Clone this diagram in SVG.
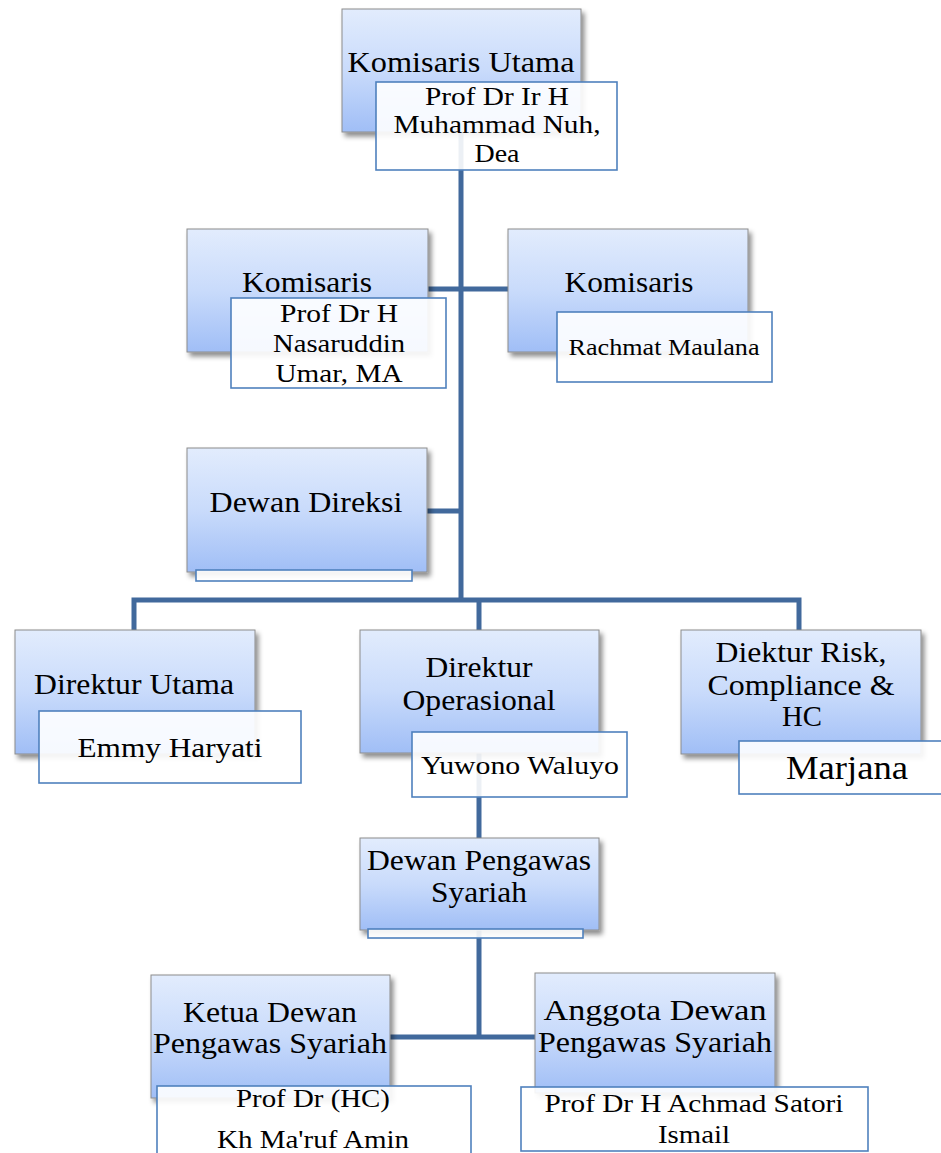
<svg xmlns="http://www.w3.org/2000/svg" width="941" height="1153" viewBox="0 0 941 1153">
<defs>
<linearGradient id="blueGrad" x1="0" y1="0" x2="0" y2="1">
<stop offset="0" stop-color="#E2ECFD"/>
<stop offset="0.5" stop-color="#C9DBFB"/>
<stop offset="1" stop-color="#A0BEF6"/>
</linearGradient>
<filter id="shadow" x="-10%" y="-10%" width="125%" height="130%">
<feDropShadow dx="3" dy="4" stdDeviation="2.5" flood-color="#000" flood-opacity="0.45"/>
</filter>
</defs>
<style>
.role{fill:url(#blueGrad);stroke:#8C8C8C;stroke-width:1;filter:url(#shadow)}
.name{fill:#FFFFFF;fill-opacity:0.9;stroke:#4F81BD;stroke-width:1.6}
.conn{fill:none;stroke:#41699C;stroke-width:5;stroke-linecap:butt;stroke-linejoin:miter}
text{font-family:"Liberation Serif","Times New Roman",serif;fill:#000;text-anchor:middle}
.h{font-size:29px}
.n{font-size:26px}
</style>
<rect width="941" height="1153" fill="#FFFFFF"/>
<g id="connectors">
<line class="conn" x1="461" y1="132" x2="461" y2="602"/>
<line class="conn" x1="428" y1="289" x2="508" y2="289"/>
<line class="conn" x1="427" y1="511" x2="461" y2="511"/>
<polyline class="conn" points="134,631 134,600 799,600 799,631"/>
<line class="conn" x1="479" y1="600" x2="479" y2="631"/>
<line class="conn" x1="479" y1="753" x2="479" y2="838"/>
<line class="conn" x1="479" y1="930" x2="479" y2="1037"/>
<line class="conn" x1="390" y1="1037" x2="535" y2="1037"/>
</g>
<g id="komisaris-utama">
<rect class="role" x="342" y="9" width="239" height="123"/>
<text class="h" x="461" y="72" textLength="227" lengthAdjust="spacingAndGlyphs">Komisaris Utama</text>
<rect class="name" x="376" y="82" width="241" height="88"/>
<text class="n" x="497" y="105" textLength="144" lengthAdjust="spacingAndGlyphs">Prof Dr Ir H</text>
<text class="n" x="497" y="133" textLength="207" lengthAdjust="spacingAndGlyphs">Muhammad Nuh,</text>
<text class="n" x="497" y="162" textLength="45" lengthAdjust="spacingAndGlyphs">Dea</text>
</g>
<g id="komisaris-1">
<rect class="role" x="187" y="229" width="241" height="123"/>
<text class="h" x="307" y="292" textLength="130" lengthAdjust="spacingAndGlyphs">Komisaris</text>
<rect class="name" x="231" y="298" width="215" height="90"/>
<text class="n" x="339" y="322" textLength="118" lengthAdjust="spacingAndGlyphs">Prof Dr H</text>
<text class="n" x="339" y="352" textLength="132" lengthAdjust="spacingAndGlyphs">Nasaruddin</text>
<text class="n" x="339" y="382" textLength="127" lengthAdjust="spacingAndGlyphs">Umar, MA</text>
</g>
<g id="komisaris-2">
<rect class="role" x="508" y="229" width="240" height="123"/>
<text class="h" x="629" y="292" textLength="129" lengthAdjust="spacingAndGlyphs">Komisaris</text>
<rect class="name" x="557" y="312" width="215" height="70"/>
<text x="664" y="355" style="font-size:23px" textLength="191" lengthAdjust="spacingAndGlyphs">Rachmat Maulana</text>
</g>
<g id="dewan-direksi">
<rect class="role" x="187" y="448" width="240" height="124"/>
<text class="h" x="306" y="512" textLength="193" lengthAdjust="spacingAndGlyphs">Dewan Direksi</text>
<rect class="name" x="196" y="570" width="216" height="11"/>
</g>
<g id="direktur-utama">
<rect class="role" x="15" y="630" width="240" height="124"/>
<text class="h" x="134" y="694" textLength="200" lengthAdjust="spacingAndGlyphs">Direktur Utama</text>
<rect class="name" x="39" y="711" width="262" height="72"/>
<text x="170" y="757" style="font-size:28px" textLength="185" lengthAdjust="spacingAndGlyphs">Emmy Haryati</text>
</g>
<g id="direktur-operasional">
<rect class="role" x="360" y="630" width="239" height="123"/>
<text class="h" x="479" y="677" textLength="107" lengthAdjust="spacingAndGlyphs">Direktur</text>
<text class="h" x="479" y="710" textLength="153" lengthAdjust="spacingAndGlyphs">Operasional</text>
<rect class="name" x="412" y="732" width="215" height="65"/>
<text x="520" y="774" style="font-size:26px" textLength="198" lengthAdjust="spacingAndGlyphs">Yuwono Waluyo</text>
</g>
<g id="direktur-risk">
<rect class="role" x="681" y="630" width="240" height="124"/>
<text class="h" x="801" y="662" textLength="171" lengthAdjust="spacingAndGlyphs">Diektur Risk,</text>
<text class="h" x="801" y="695" textLength="187" lengthAdjust="spacingAndGlyphs">Compliance &amp;</text>
<text class="h" x="802" y="726" textLength="40" lengthAdjust="spacingAndGlyphs">HC</text>
<rect class="name" x="739" y="741" width="210" height="53"/>
<text x="847" y="779" style="font-size:34px" textLength="122" lengthAdjust="spacingAndGlyphs">Marjana</text>
</g>
<g id="dewan-pengawas-syariah">
<rect class="role" x="360" y="838" width="239" height="92"/>
<text class="h" x="479" y="870" textLength="224" lengthAdjust="spacingAndGlyphs">Dewan Pengawas</text>
<text class="h" x="479" y="902" textLength="96" lengthAdjust="spacingAndGlyphs">Syariah</text>
<rect class="name" x="368" y="929" width="215" height="9"/>
</g>
<g id="ketua-dps">
<rect class="role" x="151" y="975" width="239" height="123"/>
<text class="h" x="270" y="1022" textLength="174" lengthAdjust="spacingAndGlyphs">Ketua Dewan</text>
<text class="h" x="270" y="1053" textLength="234" lengthAdjust="spacingAndGlyphs">Pengawas Syariah</text>
<rect class="name" x="157" y="1086" width="314" height="80"/>
<text class="n" x="313" y="1107" textLength="154" lengthAdjust="spacingAndGlyphs">Prof Dr (HC)</text>
<text class="n" x="313" y="1148" textLength="192" lengthAdjust="spacingAndGlyphs">Kh Ma'ruf Amin</text>
</g>
<g id="anggota-dps">
<rect class="role" x="535" y="973" width="240" height="120"/>
<text class="h" x="655" y="1020" textLength="223" lengthAdjust="spacingAndGlyphs">Anggota Dewan</text>
<text class="h" x="655" y="1052" textLength="234" lengthAdjust="spacingAndGlyphs">Pengawas Syariah</text>
<rect class="name" x="521" y="1087" width="347" height="64"/>
<text class="n" x="694" y="1112" textLength="299" lengthAdjust="spacingAndGlyphs">Prof Dr H Achmad Satori</text>
<text class="n" x="694" y="1143" textLength="72" lengthAdjust="spacingAndGlyphs">Ismail</text>
</g>
</svg>
